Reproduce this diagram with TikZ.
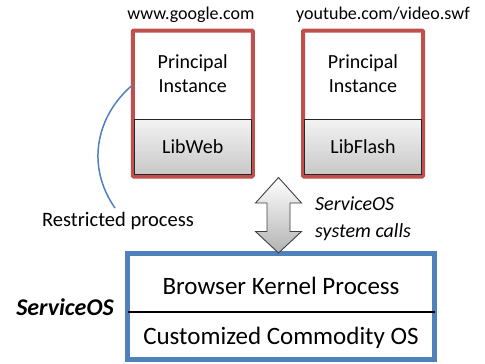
\documentclass[tikz,border=0pt]{standalone}
\usepackage{fontspec}
\setmainfont{Carlito}
\definecolor{boxred}{RGB}{192,80,77}
\definecolor{boxblue}{RGB}{79,129,189}
\definecolor{libtop}{RGB}{243,243,243}
\definecolor{libbot}{RGB}{200,200,200}
\begin{document}
\begin{tikzpicture}[x=1pt,y=-1pt,
  redbox/.style={draw=boxred,line width=4pt,rounded corners=1pt,inner sep=0pt,outer sep=0pt,minimum width=120pt,minimum height=146pt},
  libbox/.style={draw=black!85,line width=0.9pt,top color=libtop,bottom color=libbot,inner sep=0pt,outer sep=0pt,minimum width=117pt,minimum height=55pt,font=\fontsize{20}{24}\selectfont},
  princ/.style={align=center,inner sep=0pt,font=\fontsize{20}{24}\selectfont},
  urltext/.style={inner sep=0pt,font=\fontsize{18}{22}\selectfont},
  bigtext/.style={inner sep=0pt,font=\fontsize{25}{30}\selectfont}]
\useasboundingbox (0,0) rectangle (485,364);
% principal boxes
\node[redbox] (lbox) at (192.75,103.5) {};
\node[redbox] (rbox) at (363,103.5) {};
\node[libbox] (libweb) at (192.75,146.75) {LibWeb};
\node[libbox] (libflash) at (363,146.75) {LibFlash};
\node[princ] (pl) at (192.75,74) {Principal\\Instance};
\node[princ] (pr) at (363,74) {Principal\\Instance};
\node[urltext] (url1) at (191,15) {www.google.com};
\node[urltext] (url2) at (383,15) {youtube.com/video.swf};
% kernel box
\node[draw=boxblue,line width=5pt,inner sep=0pt,outer sep=0pt,minimum width=307pt,minimum height=105.5pt] (kbox) at (281,306.25) {};
\draw[line width=1.5pt] (kbox.west |- 0,312) -- (kbox.east |- 0,312);
\node[bigtext] (bk) at (281,286) {Browser Kernel Process};
\node[bigtext] (cos) at (281,338) {Customized Commodity OS};
\node[inner sep=0pt,font=\fontsize{24}{28}\selectfont\bfseries\itshape] (sos) at (65,307) {ServiceOS};
% block arrow
\coordinate (ac) at (278.5,215);
\draw[draw=black!75,line width=0.9pt,top color=white,bottom color=black!30,line join=miter]
  (278.5,177.5) -- (301.5,203) -- (290,203) -- (290,231.5) -- (301.5,231.5) -- (278.5,253)
  -- (255.5,231.5) -- (267,231.5) -- (267,203) -- (255.5,203) -- cycle;
\node[anchor=west,align=left,inner sep=0pt,font=\fontsize{20}{27}\selectfont\itshape] (sc) at (315,218.5) {ServiceOS\\system calls};
% restricted process
\node[inner sep=0pt,font=\fontsize{20.5}{24}\selectfont] (rp) at (118,221) {Restricted process};
\coordinate (cs) at (132.5,85);
\coordinate (ce) at (115,208);
\draw[boxblue,line width=1.5pt] (cs) .. controls (97,115) and (85,165) .. (ce);
\end{tikzpicture}
\end{document}
